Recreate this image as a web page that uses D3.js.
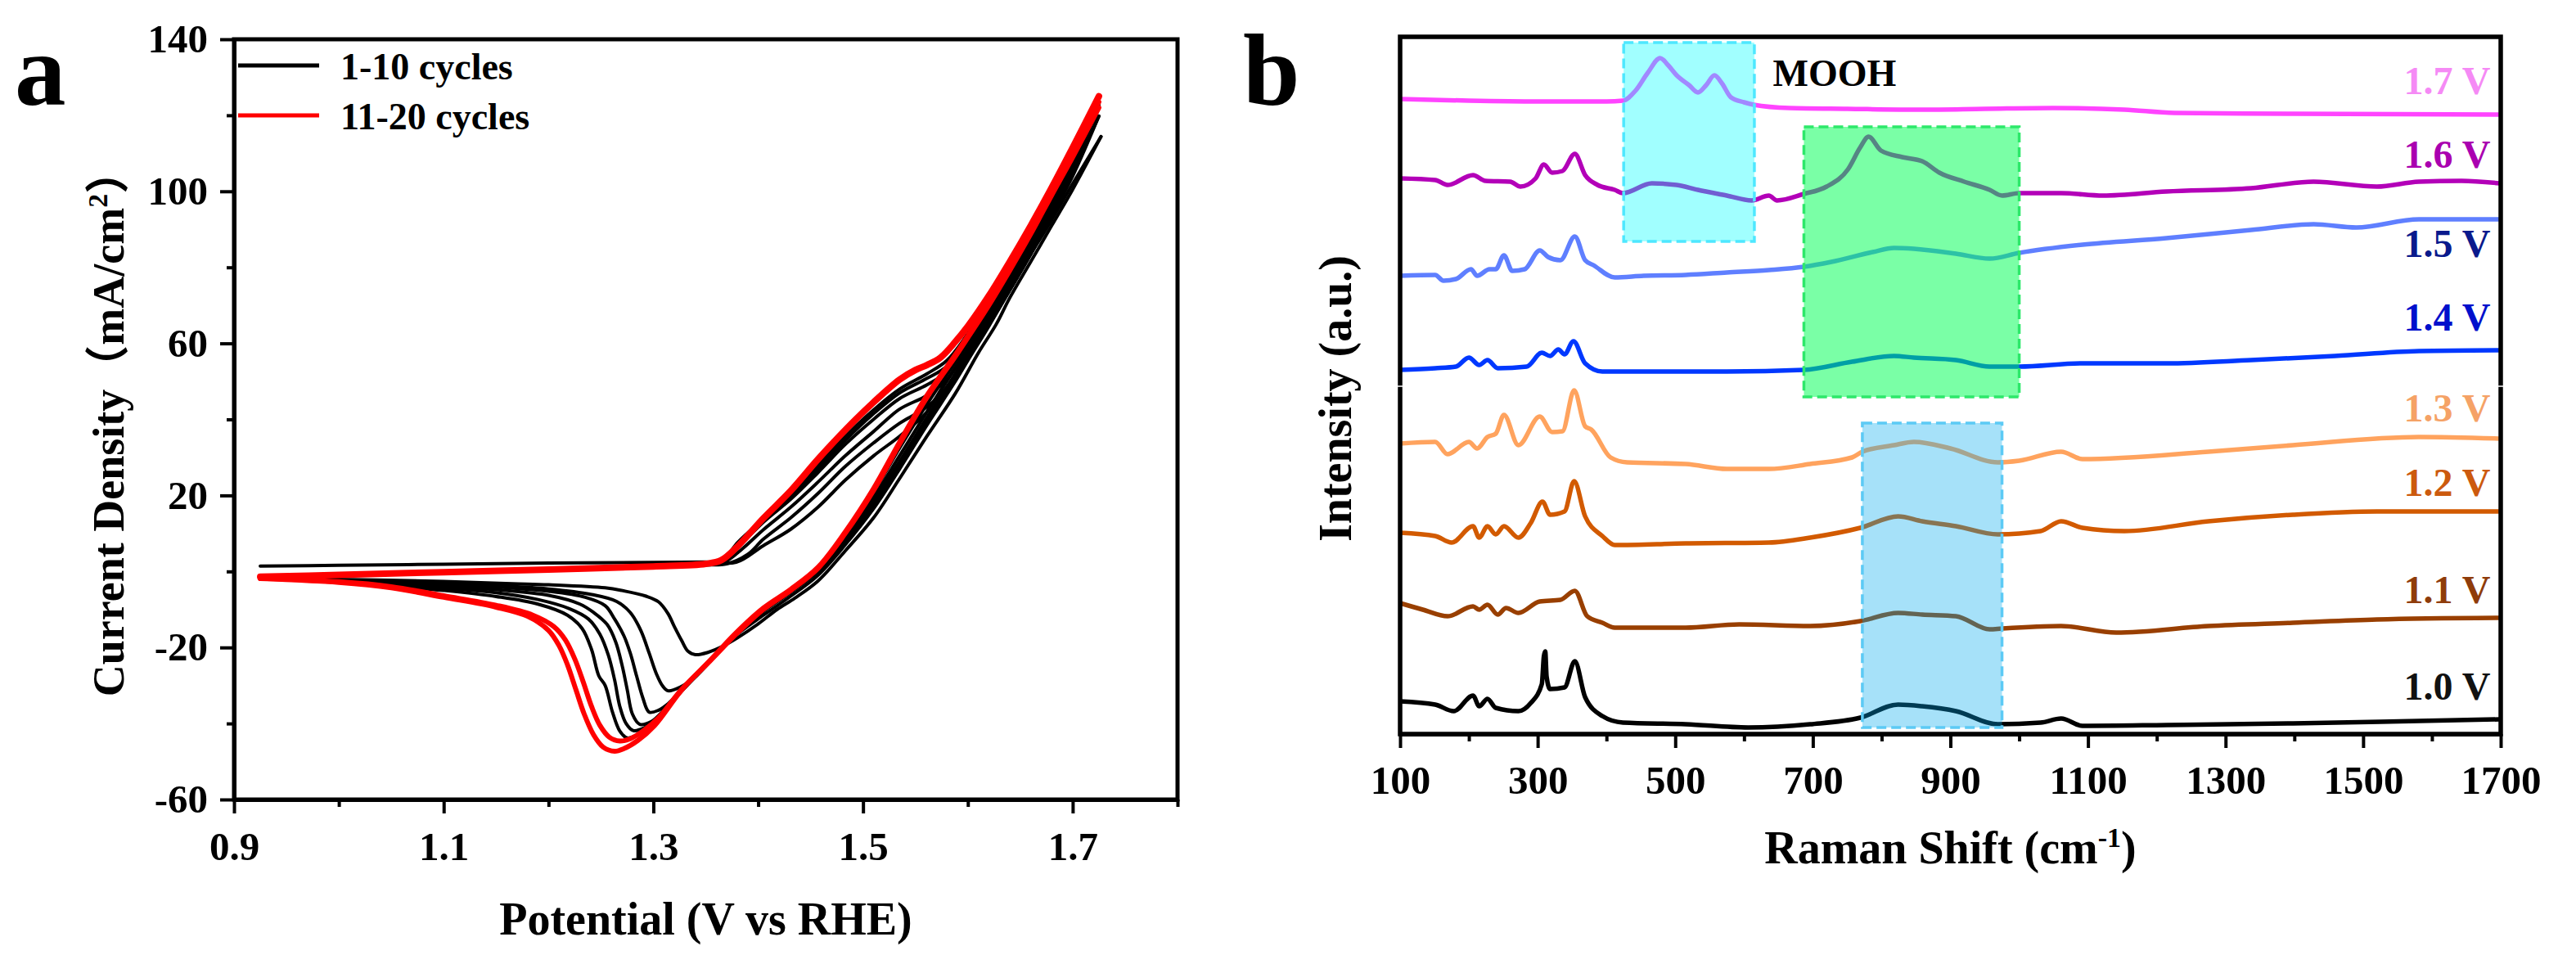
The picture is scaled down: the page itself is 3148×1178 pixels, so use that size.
<!DOCTYPE html>
<html>
<head>
<meta charset="utf-8">
<script src="https://cdn.jsdelivr.net/npm/d3@7"></script>
<style>
  html, body { margin: 0; background: #fff; }
  svg { display: block; }
</style>
</head>
<body>
<div id="chart"></div>
<script>
// Two-panel figure: (a) CV cycling curves, (b) stacked in-situ Raman spectra.

const FONT = '"Liberation Serif", "Times New Roman", "Noto Sans CJK SC", serif';

// ---- panel a: cyclic voltammetry, [potential V, current mA/cm2] ----
const cvTicksMajorX = [0.9, 1.1, 1.3, 1.5, 1.7];
const cvTicksMinorX = [1.0, 1.2, 1.4, 1.6, 1.8];
const cvTicksMajorY = [-60, -20, 20, 60, 100, 140];
const cvTicksMinorY = [-40, 0, 40, 80, 120];
const cvLegendLabels = ['1-10 cycles', '11-20 cycles'];
const cvLegendColors = ['#000000', '#ff0000'];

const blackFwd1 = [[0.925,1.4],[1.0,1.6],[1.1,1.9],[1.2,2.2],[1.3,2.4],[1.35,2.5],[1.379,2.4],[1.405,6.8],[1.431,11.1],[1.457,16.9],[1.483,24.0],[1.51,30.4],[1.535,35.6],[1.561,42.0],[1.577,49.0],[1.6,58.5],[1.62,66.0],[1.64,74.5],[1.66,83.5],[1.68,92.5],[1.7,102.0],[1.727,114.4]];
const blackRet1 = [[1.727,114.4],[1.7,100.5],[1.68,91.0],[1.66,81.5],[1.64,72.0],[1.627,65.0],[1.61,57.5],[1.588,46.8],[1.561,35.6],[1.535,24.5],[1.51,14.1],[1.483,5.4],[1.457,-2.5],[1.435,-7.0],[1.418,-10.0],[1.4,-13.8],[1.38,-17.5],[1.366,-19.7],[1.352,-21.3],[1.34,-21.9],[1.333,-21.0],[1.327,-18.2],[1.32,-14.5],[1.314,-11.1],[1.305,-8.0],[1.293,-6.5],[1.27,-5.0],[1.254,-4.3],[1.2,-3.5],[1.165,-3.2],[1.1,-2.6],[1.0,-2.1],[0.925,-1.9]];
const blackFwd2 = [[0.925,-1.4],[1.1,-0.3],[1.2,0.4],[1.3,1.2],[1.35,1.7],[1.37,2.0],[1.39,4.5],[1.405,8.5],[1.431,14.1],[1.457,20.5],[1.483,27.6],[1.51,33.8],[1.535,39.0],[1.561,43.3],[1.58,48.5],[1.6,57.0],[1.62,65.0],[1.64,74.0],[1.66,83.5],[1.68,94.0],[1.7,105.0],[1.725,119.8]];
const blackRet2 = [[1.725,119.8],[1.7,104.0],[1.68,93.5],[1.66,83.5],[1.64,74.0],[1.62,64.5],[1.6,55.5],[1.588,50.0],[1.561,38.5],[1.535,27.0],[1.51,16.5],[1.483,7.0],[1.457,-1.0],[1.431,-6.5],[1.405,-11.5],[1.38,-16.5],[1.366,-20.0],[1.35,-24.5],[1.34,-27.7],[1.325,-30.5],[1.314,-31.4],[1.309,-30.2],[1.303,-27.0],[1.296,-21.5],[1.288,-15.5],[1.278,-10.8],[1.265,-7.9],[1.24,-6.0],[1.2,-4.6],[1.15,-3.7],[1.1,-3.0],[1.0,-2.3],[0.925,-1.9]];
const blackFwd3 = [[0.925,-1.4],[1.1,-0.3],[1.2,0.4],[1.3,1.2],[1.35,1.8],[1.368,2.5],[1.385,6.0],[1.405,11.0],[1.431,16.9],[1.457,23.5],[1.483,30.4],[1.51,36.8],[1.535,42.7],[1.561,46.3],[1.58,50.5],[1.6,58.5],[1.62,66.5],[1.64,75.5],[1.66,85.0],[1.68,95.5],[1.7,107.0],[1.725,122.0]];
const blackRet3 = [[1.725,122.0],[1.7,106.5],[1.68,95.5],[1.66,85.0],[1.64,75.0],[1.62,65.5],[1.6,56.5],[1.588,51.0],[1.561,39.5],[1.535,27.8],[1.51,17.5],[1.483,8.0],[1.457,0.0],[1.431,-5.5],[1.405,-10.5],[1.379,-16.5],[1.36,-22.0],[1.343,-27.0],[1.33,-30.5],[1.314,-34.8],[1.305,-36.5],[1.296,-37.0],[1.29,-33.3],[1.284,-27.5],[1.278,-21.5],[1.272,-17.0],[1.263,-12.5],[1.254,-9.0],[1.235,-6.8],[1.2,-5.2],[1.15,-4.1],[1.1,-3.3],[1.0,-2.5],[0.925,-1.9]];
const blackFwd4 = [[0.925,-1.4],[1.1,-0.3],[1.2,0.4],[1.3,1.2],[1.35,1.9],[1.366,2.8],[1.383,7.0],[1.405,13.0],[1.431,19.0],[1.457,26.0],[1.483,33.4],[1.51,40.0],[1.535,45.5],[1.561,49.1],[1.58,52.5],[1.6,60.0],[1.62,68.0],[1.64,77.0],[1.66,86.5],[1.68,97.0],[1.7,108.5],[1.725,122.5]];
const blackRet4 = [[1.725,122.5],[1.7,107.5],[1.68,96.5],[1.66,86.0],[1.64,76.0],[1.62,66.5],[1.6,57.5],[1.588,52.0],[1.561,40.5],[1.535,29.0],[1.51,18.5],[1.483,8.8],[1.457,0.6],[1.431,-5.2],[1.405,-10.2],[1.379,-16.3],[1.354,-23.5],[1.327,-31.5],[1.31,-36.5],[1.298,-39.5],[1.287,-40.2],[1.28,-37.5],[1.275,-31.0],[1.27,-24.5],[1.264,-18.5],[1.256,-14.0],[1.243,-10.8],[1.23,-8.6],[1.2,-6.3],[1.15,-4.8],[1.1,-3.8],[1.0,-2.6],[0.925,-1.9]];
const blackFwd5 = [[0.925,-1.4],[1.1,-0.3],[1.2,0.4],[1.3,1.2],[1.35,1.9],[1.366,2.9],[1.382,7.5],[1.405,13.5],[1.431,19.8],[1.457,27.0],[1.483,34.5],[1.51,41.5],[1.535,47.0],[1.561,50.8],[1.58,54.0],[1.6,61.5],[1.62,69.5],[1.64,78.5],[1.66,88.0],[1.68,98.5],[1.7,110.0],[1.725,123.0]];
const blackRet5 = [[1.725,123.0],[1.7,108.5],[1.68,97.5],[1.66,87.0],[1.64,77.0],[1.62,67.5],[1.6,58.5],[1.588,53.5],[1.561,42.0],[1.535,30.5],[1.51,19.5],[1.483,9.5],[1.457,0.8],[1.431,-5.0],[1.405,-10.0],[1.379,-16.2],[1.354,-23.5],[1.327,-31.4],[1.3,-39.8],[1.288,-41.5],[1.281,-41.9],[1.274,-40.0],[1.268,-35.5],[1.263,-28.5],[1.257,-22.0],[1.249,-16.5],[1.238,-12.5],[1.22,-9.8],[1.19,-7.4],[1.15,-5.6],[1.1,-4.4],[1.05,-3.4],[1.0,-2.7],[0.925,-1.9]];
const blackFwd6 = [[0.925,-1.4],[1.1,-0.3],[1.2,0.5],[1.3,1.3],[1.35,2.0],[1.366,3.0],[1.381,7.8],[1.405,13.8],[1.431,20.3],[1.457,27.8],[1.483,35.5],[1.51,42.5],[1.535,48.0],[1.561,52.0],[1.58,55.5],[1.6,62.5],[1.62,70.5],[1.64,79.5],[1.66,89.0],[1.68,99.5],[1.7,110.8],[1.725,123.5]];
const blackRet6 = [[1.725,123.5],[1.7,109.5],[1.68,99.0],[1.66,88.5],[1.64,78.5],[1.62,69.0],[1.6,60.0],[1.588,55.0],[1.561,44.0],[1.535,32.5],[1.51,20.8],[1.483,10.0],[1.457,1.0],[1.431,-4.8],[1.405,-9.8],[1.379,-16.1],[1.354,-23.4],[1.327,-31.3],[1.3,-40.2],[1.285,-43.0],[1.275,-43.8],[1.268,-42.0],[1.261,-37.0],[1.254,-30.0],[1.248,-27.5],[1.241,-20.5],[1.232,-15.0],[1.218,-11.5],[1.19,-8.6],[1.15,-6.6],[1.1,-5.0],[1.05,-3.8],[1.0,-2.8],[0.925,-1.9]];

const redFwd = [[0.925,-1.4],[1.0,-0.9],[1.1,-0.2],[1.2,0.5],[1.3,1.3],[1.35,2.0],[1.365,3.0],[1.38,6.5],[1.405,14.0],[1.431,21.2],[1.457,29.5],[1.483,37.2],[1.51,44.5],[1.535,50.5],[1.55,53.0],[1.561,54.3],[1.574,56.3],[1.588,60.4],[1.6,64.5],[1.62,72.5],[1.64,81.5],[1.66,91.0],[1.68,101.0],[1.7,111.5],[1.725,125.0]];
const redRet11 = [[1.725,122.0],[1.7,109.0],[1.68,99.0],[1.66,88.8],[1.64,79.2],[1.62,70.0],[1.6,61.5],[1.588,56.5],[1.561,45.8],[1.535,33.6],[1.51,21.3],[1.483,10.0],[1.457,0.8],[1.431,-5.0],[1.405,-10.0],[1.379,-16.5],[1.354,-23.6],[1.327,-31.0],[1.305,-38.5],[1.29,-42.0],[1.278,-44.0],[1.268,-44.6],[1.258,-43.6],[1.249,-40.5],[1.241,-35.5],[1.233,-29.0],[1.225,-23.0],[1.216,-18.0],[1.205,-14.5],[1.185,-11.5],[1.15,-8.9],[1.1,-6.4],[1.05,-4.0],[1.0,-2.7],[0.925,-1.8]];
const redRet20 = [[1.725,123.5],[1.7,110.0],[1.68,100.0],[1.66,89.5],[1.64,80.0],[1.62,70.5],[1.6,62.0],[1.588,57.0],[1.561,46.3],[1.535,34.1],[1.51,21.8],[1.483,10.4],[1.457,1.1],[1.431,-4.7],[1.405,-9.6],[1.379,-16.1],[1.354,-23.4],[1.327,-31.2],[1.301,-40.6],[1.285,-44.5],[1.272,-46.6],[1.263,-47.3],[1.252,-46.2],[1.243,-43.0],[1.234,-37.5],[1.226,-31.0],[1.218,-24.5],[1.21,-19.5],[1.2,-15.5],[1.18,-11.8],[1.15,-9.4],[1.1,-6.8],[1.05,-4.3],[1.0,-2.9],[0.925,-1.9]];

// ---- panel b: Raman spectra, [shift cm-1, stacked intensity a.u.] ----
const ramanTicksMajor = [100, 300, 500, 700, 900, 1100, 1300, 1500, 1700];
const ramanTicksMinor = [200, 400, 600, 800, 1000, 1200, 1400, 1600];
const potentialLabels = ['1.0 V', '1.1 V', '1.2 V', '1.3 V', '1.4 V', '1.5 V', '1.6 V', '1.7 V'];
const lineColors  = ['#000000', '#993f00', '#d25a00', '#ffa35e', '#0038ff', '#5f7fff', '#b300b8', '#ff44ff'];
const labelColors = ['#111111', '#8f3c0a', '#cc5a0e', '#f5a266', '#0010cc', '#0a1a8c', '#aa00b0', '#f58af5'];
const labelIntensity = [42, 160, 291, 382, 493, 583, 692, 782];

const spec10 = [[100,40],[151,36],[178,28],[206,47],[215,34],[227,43],[239,32],[272,28],[290,38],[306,61],[309,95],[311,101],[313,70],[318,55],[339,57],[354,89],[369,45],[394,22],[424,14],[515,12],[606,8],[696,12],[769,20],[824,36],[859,34],[908,28],[969,12],[1031,14],[1061,19],[1092,10],[1214,11],[1398,13],[1581,16],[1698,18]];
const spec11 = [[100,160],[133,152],[169,144],[206,156],[215,152],[227,158],[242,146],[254,154],[272,148],[303,162],[333,164],[354,175],[372,144],[394,136],[412,130],[515,130],[593,134],[696,132],[769,138],[824,148],[859,146],[908,144],[957,128],[975,129],[1061,132],[1141,124],[1275,132],[1398,136],[1520,140],[1698,142]];
const spec12 = [[100,246],[151,242],[175,234],[206,254],[215,240],[227,254],[239,244],[251,254],[272,240],[290,258],[307,284],[318,268],[339,272],[353,309],[369,266],[394,242],[412,231],[515,233],[636,234],[696,240],[769,252],[824,266],[859,260],[908,254],[969,244],[1031,248],[1061,260],[1092,252],[1153,248],[1275,260],[1398,268],[1520,272],[1698,272]];
const spec13 = [[100,355],[151,357],[169,342],[200,357],[212,349],[227,363],[239,367],[251,390],[272,353],[303,388],[321,369],[336,370],[353,420],[369,376],[378,372],[406,338],[430,332],[515,330],[575,324],[636,324],[696,330],[757,338],[772,345],[818,353],[847,357],[900,349],[969,332],[1000,334],[1061,345],[1092,336],[1275,345],[1398,353],[1581,363],[1698,361]];
const spec14 = [[100,445],[151,447],[181,449],[200,460],[215,451],[227,457],[242,447],[284,449],[306,466],[318,462],[330,470],[339,464],[352,480],[369,453],[394,443],[454,443],[575,443],[687,445],[757,455],[818,462],[847,460],[908,457],[957,449],[1000,449],[1092,453],[1214,453],[1337,457],[1459,462],[1581,468],[1698,469]];
const spec15 = [[100,560],[151,561],[163,554],[181,556],[203,568],[212,560],[230,568],[239,568],[251,585],[263,566],[281,568],[303,591],[315,583],[333,579],[354,608],[369,579],[381,573],[412,558],[454,560],[515,561],[575,564],[636,567],[687,571],[727,577],[787,589],[818,594],[847,593],[908,587],[957,581],[1000,588],[1092,598],[1214,606],[1337,616],[1428,623],[1490,619],[1581,629],[1698,629]];
const spec16 = [[100,679],[151,677],[169,671],[206,683],[224,676],[260,675],[275,669],[297,679],[309,696],[321,686],[336,688],[354,709],[369,683],[387,671],[412,665],[424,661],[466,673],[502,671],[533,665],[575,658],[611,652],[636,658],[648,652],[687,660],[720,669],[751,690],[769,717],[781,730],[799,713],[830,705],[859,700],[884,686],[920,675],[957,665],[975,658],[1000,661],[1061,661],[1122,658],[1214,663],[1337,667],[1428,675],[1520,669],[1581,675],[1643,676],[1698,673]];
const spec17 = [[100,776],[200,774],[300,773],[400,773],[424,774],[442,786],[460,808],[478,826],[490,817],[502,805],[520,793],[533,784],[545,793],[557,805],[568,795],[581,778],[600,772],[614,769],[666,765],[750,764],[858,763],[950,764],[1049,765],[1153,763],[1226,759],[1400,758],[1698,757]];

// highlight boxes [shift from, shift to, intensity from, intensity to]
const boxMOOH  = [425, 615, 602, 845];
const boxGreen = [687, 1000, 412, 742];
const boxBlue  = [772, 975, 8, 380];
const boxFills = ['#00ffff', '#00ff55', '#00aaee'];
const boxOpacity = [0.37, 0.52, 0.35];
const boxStrokes = ['#4ee8ff', '#2de86a', '#5ccaf5'];
const moohAnchor = [642, 792];

// ---------------------------------------------------------------
const W = 3148, H = 1178;
const svg = d3.select('#chart').append('svg')
  .attr('width', W).attr('height', H)
  .attr('viewBox', `0 0 ${W} ${H}`);
svg.append('rect').attr('width', W).attr('height', H).attr('fill', '#fff');

const plainNum = (d) => String(d); // hyphen minus like the original, not U+2212

function styleAxis(g, size) {
  g.attr('font-family', null).attr('font-size', null);
  g.selectAll('text')
    .style('font-family', FONT).style('font-weight', 'bold')
    .attr('font-size', size).attr('fill', '#000');
  g.selectAll('.tick line').attr('stroke', '#000').attr('stroke-width', 4);
  g.select('.domain').attr('stroke', '#000').attr('stroke-width', 5);
}

function addText(parent, x, y, str, size, anchor) {
  return parent.append('text')
    .attr('x', x).attr('y', y)
    .attr('text-anchor', anchor || 'start')
    .attr('font-size', size)
    .style('font-family', FONT).style('font-weight', 'bold')
    .attr('fill', '#000')
    .text(str);
}

// ===== panel a =====
const ax = d3.scaleLinear().domain([0.9, 1.8]).range([286, 1439]);
const ay = d3.scaleLinear().domain([-60, 140]).range([977, 48]);
const pa = svg.append('g');

const cvLine = d3.line()
  .x((d) => ax(d[0])).y((d) => ay(d[1]))
  .curve(d3.curveCatmullRom.alpha(0.5));

const blackCycles = [
  [blackFwd1, blackRet1], [blackFwd2, blackRet2], [blackFwd3, blackRet3],
  [blackFwd4, blackRet4], [blackFwd5, blackRet5], [blackFwd6, blackRet6],
];
blackCycles.forEach(([f, r]) => {
  [f, r].forEach((seg) => pa.append('path')
    .attr('d', cvLine(seg))
    .attr('fill', 'none').attr('stroke', '#000').attr('stroke-width', 4)
    .attr('stroke-linejoin', 'round').attr('stroke-linecap', 'round'));
});
[[redFwd, 8], [redRet11, 6], [redRet20, 6]].forEach(([seg, w]) => pa.append('path')
  .attr('d', cvLine(seg))
  .attr('fill', 'none').attr('stroke', '#ff0000').attr('stroke-width', w)
  .attr('stroke-linejoin', 'round').attr('stroke-linecap', 'round'));

pa.append('rect')
  .attr('x', ax(0.9)).attr('y', ay(140))
  .attr('width', ax(1.8) - ax(0.9)).attr('height', ay(-60) - ay(140))
  .attr('fill', 'none').attr('stroke', '#000').attr('stroke-width', 5);

pa.append('g').attr('transform', `translate(0,${ay(-60)})`)
  .call(d3.axisBottom(ax).tickValues(cvTicksMinorX).tickSize(9).tickSizeOuter(0).tickFormat(''))
  .call((g) => styleAxis(g, 49));
pa.append('g').attr('transform', `translate(0,${ay(-60)})`)
  .call(d3.axisBottom(ax).tickValues(cvTicksMajorX).tickSize(17).tickSizeOuter(0).tickPadding(22).tickFormat(d3.format('.1f')))
  .call((g) => styleAxis(g, 49));
pa.append('g').attr('transform', `translate(${ax(0.9)},0)`)
  .call(d3.axisLeft(ay).tickValues(cvTicksMinorY).tickSize(9).tickSizeOuter(0).tickFormat(''))
  .call((g) => styleAxis(g, 49));
pa.append('g').attr('transform', `translate(${ax(0.9)},0)`)
  .call(d3.axisLeft(ay).tickValues(cvTicksMajorY).tickSize(17).tickSizeOuter(0).tickPadding(15).tickFormat(plainNum))
  .call((g) => styleAxis(g, 49));

// legend
cvLegendLabels.forEach((lbl, i) => {
  const y = 80 + i * 61;
  pa.append('line').attr('x1', 291).attr('x2', 390).attr('y1', y).attr('y2', y)
    .attr('stroke', cvLegendColors[i]).attr('stroke-width', 5);
  addText(pa, 416, y + 17, lbl, 46);
});

addText(pa, (ax(0.9) + ax(1.8)) / 2, 1142, 'Potential (V vs RHE)', 56, 'middle');
const ayTitle = addText(pa, 0, 0, null, 54, 'middle')
  .attr('transform', `translate(151,517) rotate(-90)`);
ayTitle.append('tspan').text('Current Density（mA/cm');
ayTitle.append('tspan').attr('dy', -20).attr('font-size', 34).text('2');
ayTitle.append('tspan').attr('dy', 20).text('）');

addText(pa, 18, 128, 'a', 125);

// ===== panel b =====
const bx = d3.scaleLinear().domain([100, 1700]).range([1711, 3056]);
const by = d3.scaleLinear().domain([0, 852]).range([897, 45]);
const pb = svg.append('g');

const ramanLine = d3.line().x((d) => bx(d[0])).y((d) => by(d[1])).curve(d3.curveMonotoneX);
const spectra = [spec10, spec11, spec12, spec13, spec14, spec15, spec16, spec17];
spectra.forEach((s, i) => pb.append('path')
  .attr('d', ramanLine(s))
  .attr('fill', 'none').attr('stroke', lineColors[i]).attr('stroke-width', 5.5)
  .attr('stroke-linejoin', 'round'));

[boxMOOH, boxGreen, boxBlue].forEach((b, i) => pb.append('rect')
  .attr('x', bx(b[0])).attr('y', by(b[3]))
  .attr('width', bx(b[1]) - bx(b[0])).attr('height', by(b[2]) - by(b[3]))
  .attr('fill', boxFills[i]).attr('fill-opacity', boxOpacity[i])
  .attr('stroke', boxStrokes[i]).attr('stroke-width', 3.5)
  .attr('stroke-dasharray', '12 6'));

potentialLabels.forEach((lbl, i) => addText(pb, bx(1685), by(labelIntensity[i]), lbl, 48, 'end')
  .attr('fill', labelColors[i]));
addText(pb, bx(moohAnchor[0]), by(moohAnchor[1]), 'MOOH', 46);

pb.append('rect')
  .attr('x', bx(100)).attr('y', by(852))
  .attr('width', bx(1700) - bx(100)).attr('height', by(0) - by(852))
  .attr('fill', 'none').attr('stroke', '#000').attr('stroke-width', 5.5);
// thin seam where the original figure was stitched
[bx(100), bx(1700)].forEach((x) => pb.append('line')
  .attr('x1', x - 4).attr('x2', x + 4).attr('y1', 472).attr('y2', 472)
  .attr('stroke', '#fff').attr('stroke-width', 1.5));

pb.append('g').attr('transform', `translate(0,${by(0)})`)
  .call(d3.axisBottom(bx).tickValues(ramanTicksMinor).tickSize(9).tickSizeOuter(0).tickFormat(''))
  .call((g) => styleAxis(g, 49));
pb.append('g').attr('transform', `translate(0,${by(0)})`)
  .call(d3.axisBottom(bx).tickValues(ramanTicksMajor).tickSize(17).tickSizeOuter(0).tickPadding(21).tickFormat(plainNum))
  .call((g) => styleAxis(g, 49));

const bxTitle = addText(pb, (bx(100) + bx(1700)) / 2, 1055, null, 56, 'middle');
bxTitle.append('tspan').text('Raman Shift (cm');
bxTitle.append('tspan').attr('dy', -20).attr('font-size', 34).text('-1');
bxTitle.append('tspan').attr('dy', 20).text(')');
addText(pb, 0, 0, 'Intensity (a.u.)', 56, 'middle')
  .attr('transform', `translate(1651,487) rotate(-90)`);

addText(pb, 1519, 128, 'b', 125);
</script>
</body>
</html>
